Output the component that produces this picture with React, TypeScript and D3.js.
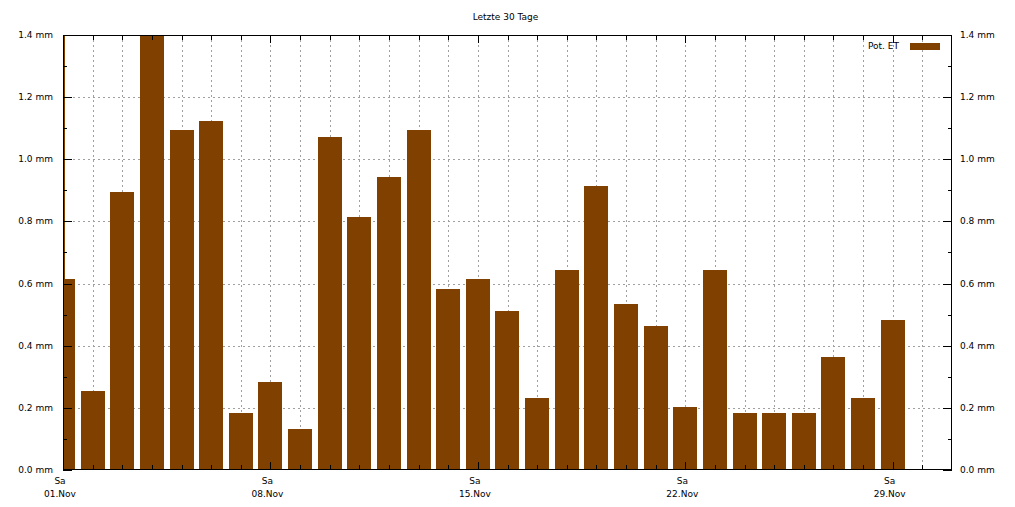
import React from "react";
import * as d3 from "d3";

const days = [
  "2025-11-01","2025-11-02","2025-11-03","2025-11-04","2025-11-05","2025-11-06","2025-11-07",
  "2025-11-08","2025-11-09","2025-11-10","2025-11-11","2025-11-12","2025-11-13","2025-11-14",
  "2025-11-15","2025-11-16","2025-11-17","2025-11-18","2025-11-19","2025-11-20","2025-11-21",
  "2025-11-22","2025-11-23","2025-11-24","2025-11-25","2025-11-26","2025-11-27","2025-11-28",
  "2025-11-29",
];
const potET = [
  0.615, 0.255, 0.895, 1.42, 1.095, 1.123, 0.183,
  0.283, 0.132, 1.072, 0.814, 0.943, 1.095, 0.583,
  0.615, 0.512, 0.232, 0.644, 0.914, 0.534, 0.463,
  0.203, 0.644, 0.183, 0.183, 0.183, 0.364, 0.232,
  0.483,
];
const xTickDates = ["2025-11-01","2025-11-08","2025-11-15","2025-11-22","2025-11-29"];
const xTickWeekday = ["Sa","Sa","Sa","Sa","Sa"];
const xTickLabels = ["01.Nov","08.Nov","15.Nov","22.Nov","29.Nov"];
const yTicks = [0, 0.2, 0.4, 0.6, 0.8, 1.0, 1.2, 1.4];
const title = "Letzte 30 Tage";
const seriesName = "Pot. ET";

const W = 1015, H = 507;
const L = 63, R = 952, T = 35, B = 470;
const barColor = "#804000";
const gridColor = "#a0a0a0";
const font = "DejaVu Sans, sans-serif";

const parse = (s: string) => { const [y, m, d] = s.split("-").map(Number); return new Date(y, m - 1, d); };

export default function App() {
  const x = d3.scaleTime().domain([parse("2025-11-01"), parse("2025-12-01")]).range([L, R]);
  const y = d3.scaleLinear().domain([0, 1.4]).range([B, T]);
  const allDays = d3.timeDay.range(parse("2025-11-01"), parse("2025-12-01"));
  const dayW = x(parse("2025-11-02")) - x(parse("2025-11-01"));
  const bw = dayW * 0.81;
  const minorY = d3.range(0.1, 1.4, 0.2);
  const weekly = new Set(xTickDates);
  const fmt = d3.timeFormat("%Y-%m-%d");

  return (
    <svg width={W} height={H} style={{ position: "absolute", left: 0, top: 0, background: "#fff" }}
      fontFamily={font} fontSize={9}>
      <defs>
        <clipPath id="plot"><rect x={L} y={T} width={R - L} height={B - T} /></clipPath>
      </defs>
      <rect x={0} y={0} width={W} height={H} fill="#fff" />
      {/* grid */}
      <g stroke={gridColor} strokeWidth={1} strokeDasharray="2,3" shapeRendering="crispEdges">
        {yTicks.slice(1, -1).map(v => (
          <line key={"gy" + v} x1={L} x2={R} y1={Math.round(y(v)) + 0.5} y2={Math.round(y(v)) + 0.5} />
        ))}
        {allDays.slice(1).map(d => (
          <line key={"gx" + fmt(d)} x1={Math.round(x(d)) + 0.5} x2={Math.round(x(d)) + 0.5} y1={T} y2={B} />
        ))}
      </g>
      {/* bars */}
      <g clipPath="url(#plot)" fill={barColor} shapeRendering="crispEdges">
        {potET.map((v, i) => {
          const cx = x(parse(days[i]));
          return <rect key={days[i]} x={Math.round(cx - bw / 2)} y={Math.round(y(v))}
            width={Math.round(bw)} height={B - Math.round(y(v))} />;
        })}
      </g>
      <line x1={L + 1.5} x2={L + 1.5} y1={T} y2={B} stroke={barColor} strokeWidth={1} shapeRendering="crispEdges" />
      {/* frame */}
      <rect x={L + 0.5} y={T + 0.5} width={R - L - 1} height={B - T - 1} fill="none" stroke="#000" strokeWidth={1} shapeRendering="crispEdges" />
      {/* y ticks */}
      <g stroke="#000" strokeWidth={1} shapeRendering="crispEdges">
        {yTicks.map(v => {
          const yy = Math.round(y(v)) + 0.5;
          return <g key={"ty" + v}>
            <line x1={L} x2={L + 9} y1={yy} y2={yy} />
            <line x1={R} x2={R - 9} y1={yy} y2={yy} />
          </g>;
        })}
        {minorY.map(v => {
          const yy = Math.round(y(v)) + 0.5;
          return <g key={"my" + v}>
            <line x1={L} x2={L + 4} y1={yy} y2={yy} />
            <line x1={R} x2={R - 4} y1={yy} y2={yy} />
          </g>;
        })}
        {allDays.map(d => {
          const xx = Math.round(x(d)) + 0.5;
          const len = weekly.has(fmt(d)) ? 8 : 5;
          return <g key={"tx" + fmt(d)}>
            <line x1={xx} x2={xx} y1={T} y2={T + len} />
            <line x1={xx} x2={xx} y1={B} y2={B - len} />
          </g>;
        })}
      </g>
      {/* y labels */}
      {yTicks.map(v => (
        <g key={"ly" + v}>
          <text x={53} y={y(v) + 3} textAnchor="end" fill="#000">{v.toFixed(1)} mm</text>
          <text x={960} y={y(v) + 3} textAnchor="start" fill="#000">{v.toFixed(1)} mm</text>
        </g>
      ))}
      {/* x labels */}
      {xTickDates.map((s, i) => {
        const xx = x(parse(s)) - 3;
        return <g key={"lx" + s}>
          <text x={xx} y={484} textAnchor="middle" fill="#000">{xTickWeekday[i]}</text>
          <text x={xx} y={497} textAnchor="middle" fill="#000">{xTickLabels[i]}</text>
        </g>;
      })}
      {/* title */}
      <text x={(L + R) / 2 - 2} y={20} textAnchor="middle" fill="#000">{title}</text>
      {/* legend */}
      <text x={899} y={49} textAnchor="end" fill="#000">{seriesName}</text>
      <rect x={910} y={43} width={30} height={7} fill={barColor} />
    </svg>
  );
}
